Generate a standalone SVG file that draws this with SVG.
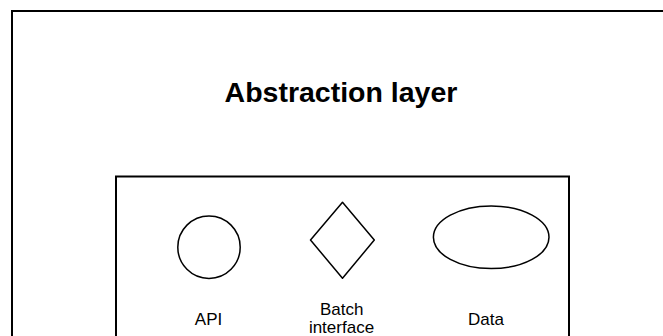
<svg xmlns="http://www.w3.org/2000/svg" width="663" height="336" viewBox="0 0 663 336">
<style>
.frame{fill:none;stroke:#000;stroke-width:2}
.shape{fill:none;stroke:#000;stroke-width:1.5;stroke-linejoin:round}
.lbl{font-family:"Liberation Sans",Arial,sans-serif;font-size:17px;fill:#000;text-anchor:middle}
.title{font-family:"Liberation Sans",Arial,sans-serif;font-size:28.5px;font-weight:bold;fill:#000;text-anchor:middle}
</style>
<rect width="663" height="336" fill="#fff"/>
<g id="abstraction-layer">
<rect class="frame" x="12" y="11" width="700" height="400"/>
<text class="title" x="341" y="101.7">Abstraction layer</text>
</g>
<g id="inner-box">
<rect class="frame" x="116" y="176.5" width="453" height="220" stroke-width="1.6"/>
</g>
<g id="api">
<ellipse class="shape" cx="209" cy="247.2" rx="31.2" ry="31.2"/>
<text class="lbl" x="208.5" y="325">API</text>
</g>
<g id="batch-interface">
<polygon class="shape" points="342.5,202.3 374.3,240 342.5,278.3 310.5,240"/>
<text class="lbl" x="341.7" y="314.5">Batch</text>
<text class="lbl" x="341.5" y="333">interface</text>
</g>
<g id="data">
<ellipse class="shape" cx="491.2" cy="237.3" rx="57.8" ry="31.3"/>
<text class="lbl" x="486" y="325">Data</text>
</g>
<g id="connectors"></g>
</svg>
